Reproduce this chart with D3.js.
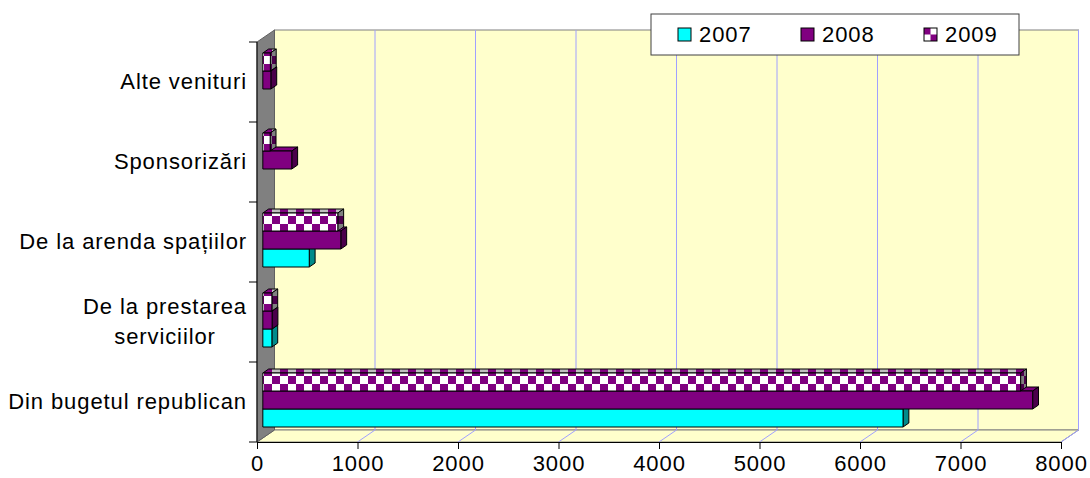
<!DOCTYPE html>
<html lang="ro">
<head>
<meta charset="UTF-8">
<title>Venituri</title>
<script src="https://d3js.org/d3.v7.min.js"></script>
<style>
  body { margin: 0; background: #fff; }
  text { font-family: "Liberation Sans", Arial, sans-serif; fill: #000; letter-spacing: 0.9px; }
</style>
</head>
<body>
<div id="chart"></div>
<script>
// categories listed bottom to top, as in the chart
const categories = ["Din bugetul republican", "De la prestarea\nserviciilor", "De la arenda spațiilor", "Sponsorizări", "Alte venituri"];
const series = ["2007", "2008", "2009"];
const values2007 = [6370, 90, 462, 0, 0];
const values2008 = [7660, 92, 776, 288, 80];
const values2009 = [7540, 90, 746, 73, 75];
const xTicks = [0, 1000, 2000, 3000, 4000, 5000, 6000, 7000, 8000];

const W = 1090, H = 478;
const svg = d3.select("#chart").append("svg").attr("width", W).attr("height", H);

// depth vector of the 3D box
const dx = 17.5, dy = -12;
const x = d3.scaleLinear().domain([0, 8000]).range([257, 1061]);
const yCat = d3.scaleBand().domain(categories.slice().reverse()).range([42, 442]);
const ySer = d3.scaleBand().domain(series.slice().reverse()).range([15, 69]);

const defs = svg.append("defs");
function checker(id, a, b) {
  const p = defs.append("pattern").attr("id", id).attr("patternUnits", "userSpaceOnUse")
    .attr("width", 16).attr("height", 16);
  p.append("rect").attr("width", 16).attr("height", 16).attr("fill", a);
  p.append("rect").attr("width", 8).attr("height", 8).attr("fill", b);
  p.append("rect").attr("x", 8).attr("y", 8).attr("width", 8).attr("height", 8).attr("fill", b);
}
checker("chkFront", "#800080", "#ffffff");
checker("chkTop", "#800080", "#c0c0c0");
checker("chkSide", "#4b004b", "#808080");

const styles = {
  "2007": { front: "#00ffff", top: "#00ffff", side: "#008b8b" },
  "2008": { front: "#800080", top: "#800080", side: "#4b004b" },
  "2009": { front: "url(#chkFront)", top: "url(#chkTop)", side: "url(#chkSide)" }
};

const y0 = 42, y1 = 442;
// back wall
svg.append("rect")
  .attr("x", x(0) + dx).attr("y", y0 + dy)
  .attr("width", x(8000) - x(0)).attr("height", y1 - y0)
  .attr("fill", "#ffffcc").attr("stroke", "#808080");
// floor
svg.append("polygon")
  .attr("points", [[x(0), y1], [x(8000), y1], [x(8000) + dx, y1 + dy], [x(0) + dx, y1 + dy]].join(" "))
  .attr("fill", "#ffffcc").attr("stroke", "#808080");
// gridlines
xTicks.filter(v => v > 0).forEach(v => {
  svg.append("line").attr("x1", x(v) + dx).attr("x2", x(v) + dx)
    .attr("y1", y0 + dy).attr("y2", y1 + dy).attr("stroke", "#a0a0ff").attr("stroke-width", 1);
  svg.append("line").attr("x1", x(v)).attr("y1", y1)
    .attr("x2", x(v) + dx).attr("y2", y1 + dy).attr("stroke", "#a0a0ff").attr("stroke-width", 1);
});
// left wall
svg.append("polygon")
  .attr("points", [[x(0), y0], [x(0) + dx, y0 + dy], [x(0) + dx, y1 + dy], [x(0), y1]].join(" "))
  .attr("fill", "#808080").attr("stroke", "#606060");

// bars
const seriesValues = { "2007": values2007, "2008": values2008, "2009": values2009 };
const t0 = 1 / 3, t1 = 2 / 3;
const bars = svg.append("g");
categories.forEach((c, ci) => {
  series.forEach(s => {
    const v = seriesValues[s][ci];
    if (!v) return;
    const fx0 = x(0) + dx * t0, fx1 = x(v) + dx * t0;
    const fy0 = yCat(c) + ySer(s) + dy * t0, fy1 = fy0 + ySer.bandwidth();
    const ox = dx * (t1 - t0), oy = dy * (t1 - t0);
    const g = bars.append("g").attr("stroke", "#000").attr("stroke-width", 1).attr("stroke-linejoin", "round");
    g.append("polygon")
      .attr("points", [[fx0, fy0], [fx1, fy0], [fx1 + ox, fy0 + oy], [fx0 + ox, fy0 + oy]].join(" "))
      .attr("fill", styles[s].top);
    g.append("polygon")
      .attr("points", [[fx1, fy0], [fx1 + ox, fy0 + oy], [fx1 + ox, fy1 + oy], [fx1, fy1]].join(" "))
      .attr("fill", styles[s].side);
    g.append("rect").attr("x", fx0).attr("y", fy0)
      .attr("width", fx1 - fx0).attr("height", fy1 - fy0)
      .attr("fill", styles[s].front);
  });
});

// x axis
svg.append("g").attr("transform", `translate(0,${y1})`)
  .call(d3.axisBottom(x).tickValues(xTicks).tickFormat(d3.format("d")).tickSize(7).tickSizeOuter(0).tickPadding(6))
  .call(g => g.selectAll("text").attr("font-size", 22).style("font-family", "'Liberation Sans', Arial, sans-serif").attr("fill", "#000"))
  .call(g => g.selectAll("line, path").attr("stroke", "#000"));

// y axis with ticks at category boundaries
svg.append("line").attr("x1", x(0)).attr("x2", x(0)).attr("y1", y0).attr("y2", y1).attr("stroke", "#000");
const bounds = yCat.domain().map(c => yCat(c)).concat([y1]);
bounds.forEach(b => {
  svg.append("line").attr("x1", x(0) - 8).attr("x2", x(0)).attr("y1", b).attr("y2", b).attr("stroke", "#000");
});

const labels = svg.append("g");
categories.forEach(c => {
  const lines = c.split("\n");
  const cy = yCat(c) + yCat.bandwidth() / 2;
  const t = labels.append("text").attr("font-size", 22).attr("text-anchor", "end");
  lines.forEach((ln, i) => {
    t.append("tspan").attr("x", 247).attr("y", cy + (i - (lines.length - 1) / 2) * 30 - 1)
      .attr("dy", "0.35em").text(ln);
  });
  if (lines.length > 1) {
    const w = d3.max(t.selectAll("tspan").nodes(), n => n.getComputedTextLength());
    t.attr("text-anchor", "middle");
    t.selectAll("tspan").attr("x", 247 - w / 2);
  }
});

// legend
const legend = svg.append("g");
legend.append("rect").attr("x", 651).attr("y", 14).attr("width", 368).attr("height", 41)
  .attr("fill", "#fff").attr("stroke", "#404040");
const legX = d3.scalePoint().domain(series).range([678, 924]);
series.forEach(s => {
  legend.append("rect").attr("x", legX(s)).attr("y", 28).attr("width", 13).attr("height", 13)
    .attr("fill", styles[s].front === "url(#chkFront)" ? "url(#chkLeg)" : styles[s].front)
    .attr("stroke", "#000");
  legend.append("text").attr("x", legX(s) + 21).attr("y", 34.5).attr("dy", "0.35em")
    .attr("font-size", 22).text(s);
});
const pl = defs.append("pattern").attr("id", "chkLeg").attr("patternUnits", "userSpaceOnUse")
  .attr("x", 924).attr("y", 28).attr("width", 13).attr("height", 13);
pl.append("rect").attr("width", 13).attr("height", 13).attr("fill", "#800080");
pl.append("rect").attr("x", 6.5).attr("width", 6.5).attr("height", 6.5).attr("fill", "#fff");
pl.append("rect").attr("y", 6.5).attr("width", 6.5).attr("height", 6.5).attr("fill", "#fff");
</script>
</body>
</html>
